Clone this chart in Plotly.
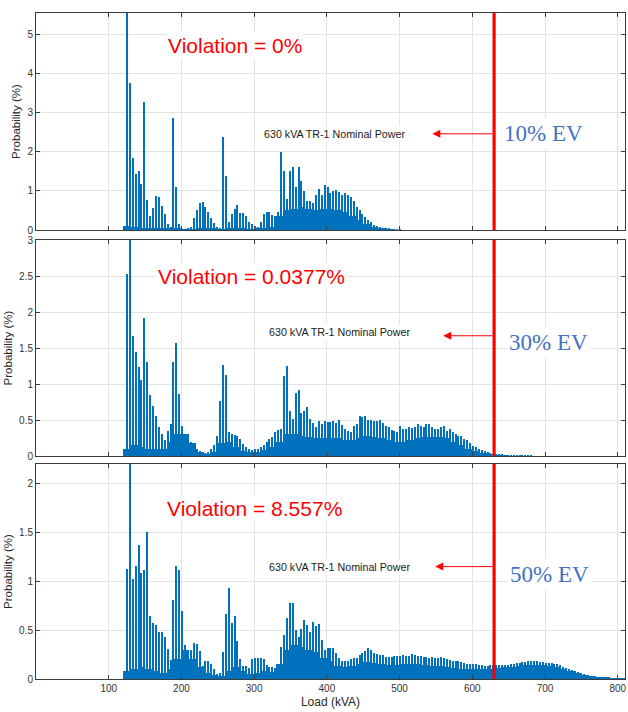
import numpy as np
import plotly.graph_objects as go
from plotly.subplots import make_subplots

# ---- histogram data (probability in %, per load bin in kVA) ----
# narrow spike bins: centres at SPIKE_START + SPIKE_STEP * i
SPIKE_START = 125
SPIKE_STEP = 4
# dense base bins: centres at BASE_START + BASE_STEP * i
BASE_START = 125
BASE_STEP = 10

ev10_spikes = [
    5.70, 3.76, 1.84, 1.44, 1.51, 1.18, 3.28, 0.77, 0.35, 0.56,
    0.88, 0.85, 0.61, 0.40, 0.15, 0.08, 2.86, 1.11, 0.15, 0.02,
    0.00, 0.03, 0.08, 0.30, 0.50, 0.70, 0.72, 0.60, 0.47, 0.30,
    0.18, 0.08, 0.05, 2.37, 1.39, 0.20, 0.40, 0.55, 0.63, 0.43,
    0.43, 0.35, 0.20, 0.15, 0.10, 0.08, 0.20, 0.40, 0.47, 0.47,
    0.38, 0.37, 0.45, 2.00, 1.50, 0.80, 1.50, 1.60, 1.10, 1.60,
    1.25, 1.00, 0.75, 0.75, 0.70, 0.90, 1.05, 0.90, 1.15, 1.10,
    0.95, 1.00, 1.03, 0.98, 0.90, 0.95, 0.90, 0.85, 0.73, 0.60,
    0.50, 0.40, 0.32, 0.25, 0.20, 0.14, 0.10, 0.07, 0.05, 0.04,
    0.03, 0.02, 0.01, 0.01, 0.005,
]
ev10_base = [
    0.10, 0.08, 0.06, 0.05, 0.04, 0.03, 0.05, 0.04,
    0.01, 0.02, 0.05, 0.06, 0.03, 0.01, 0.03, 0.05, 0.04, 0.02,
    0.03, 0.05, 0.08, 0.35, 0.50, 0.55, 0.60, 0.55, 0.50, 0.55,
    0.55, 0.50, 0.45, 0.35, 0.25, 0.15, 0.08, 0.03, 0.01, 0.00,
]

ev30_spikes = [
    2.53, 3.10, 1.67, 1.44, 1.23, 1.06, 1.91, 1.30, 0.85, 0.70,
    0.55, 0.40, 0.30, 0.22, 0.35, 0.45, 1.30, 1.57, 0.86, 0.42,
    0.30, 0.28, 0.20, 0.15, 0.10, 0.07, 0.05, 0.04, 0.05, 0.10,
    0.15, 0.28, 0.76, 1.27, 1.13, 0.34, 0.30, 0.29, 0.28, 0.23,
    0.17, 0.12, 0.10, 0.08, 0.10, 0.10, 0.12, 0.15, 0.20, 0.23,
    0.27, 0.33, 0.36, 0.38, 1.11, 1.25, 0.63, 0.52, 0.88, 0.92,
    0.60, 0.63, 0.68, 0.52, 0.46, 0.40, 0.48, 0.45, 0.48, 0.47,
    0.47, 0.48, 0.46, 0.50, 0.43, 0.38, 0.35, 0.33, 0.42, 0.45,
    0.55, 0.54, 0.55, 0.50, 0.50, 0.48, 0.48, 0.50, 0.46, 0.42,
    0.40, 0.36, 0.35, 0.33, 0.42, 0.37, 0.38, 0.40, 0.39, 0.40,
    0.45, 0.42, 0.40, 0.44, 0.45, 0.40, 0.37, 0.38, 0.40, 0.42,
    0.35, 0.37, 0.33, 0.30, 0.28, 0.28, 0.24, 0.22, 0.18, 0.14,
    0.12, 0.10, 0.08, 0.07, 0.05, 0.04, 0.03, 0.02, 0.02, 0.015,
    0.010, 0.010, 0.010, 0.008, 0.006, 0.005, 0.004, 0.003, 0.002, 0.001,
]
ev30_base = [
    0.10, 0.15, 0.12, 0.10, 0.10, 0.10, 0.20, 0.30,
    0.30, 0.18, 0.06, 0.03, 0.06, 0.18, 0.20, 0.12, 0.07, 0.05,
    0.05, 0.08, 0.12, 0.20, 0.30, 0.30, 0.28, 0.26, 0.25, 0.25,
    0.25, 0.25, 0.22, 0.22, 0.25, 0.28, 0.27, 0.25, 0.22, 0.20,
    0.20, 0.22, 0.25, 0.26, 0.27, 0.27, 0.25, 0.20, 0.15, 0.10,
    0.07, 0.04, 0.02, 0.01, 0.005,
]

ev50_spikes = [
    1.13, 2.30, 1.02, 1.16, 1.37, 1.08, 1.12, 1.50, 0.64, 0.57,
    0.55, 0.48, 0.48, 0.43, 0.31, 0.19, 0.81, 1.16, 1.12, 0.70,
    0.35, 0.25, 0.30, 0.37, 0.36, 0.29, 0.13, 0.18, 0.18, 0.15,
    0.10, 0.05, 0.06, 0.28, 0.67, 0.93, 0.57, 0.64, 0.39, 0.20,
    0.13, 0.13, 0.11, 0.20, 0.21, 0.22, 0.22, 0.20, 0.14, 0.12,
    0.12, 0.11, 0.15, 0.33, 0.45, 0.62, 0.78, 0.78, 0.50, 0.43,
    0.51, 0.60, 0.55, 0.48, 0.58, 0.54, 0.56, 0.40, 0.30, 0.32,
    0.32, 0.32, 0.27, 0.22, 0.18, 0.18, 0.18, 0.20, 0.21, 0.22,
    0.25, 0.27, 0.29, 0.32, 0.30, 0.27, 0.26, 0.25, 0.25, 0.23,
    0.23, 0.23, 0.24, 0.24, 0.24, 0.25, 0.24, 0.24, 0.26, 0.25,
    0.24, 0.24, 0.23, 0.23, 0.22, 0.23, 0.22, 0.22, 0.23, 0.21,
    0.20, 0.19, 0.18, 0.18, 0.18, 0.17, 0.16, 0.15, 0.15, 0.15,
    0.15, 0.14, 0.14, 0.13, 0.13, 0.14, 0.14, 0.14, 0.14, 0.14,
    0.14, 0.14, 0.15, 0.15, 0.16, 0.16, 0.17, 0.17, 0.18, 0.18,
    0.18, 0.18, 0.17, 0.17, 0.16, 0.16, 0.16, 0.15, 0.15, 0.14,
    0.12, 0.11, 0.10, 0.09, 0.08, 0.07, 0.06, 0.05, 0.04, 0.035,
    0.030, 0.025, 0.020, 0.015, 0.012, 0.010, 0.008, 0.005, 0.003, 0.002,
]
ev50_base = [
    0.08, 0.10, 0.12, 0.10, 0.08, 0.06, 0.10, 0.20,
    0.30, 0.20, 0.12, 0.06, 0.04, 0.03, 0.08, 0.12, 0.08, 0.05,
    0.06, 0.08, 0.07, 0.15, 0.30, 0.35, 0.33, 0.30, 0.28, 0.22,
    0.18, 0.13, 0.12, 0.13, 0.15, 0.17, 0.16, 0.15, 0.14, 0.14,
    0.15, 0.15, 0.15, 0.14, 0.13, 0.13, 0.12, 0.11, 0.10, 0.10,
    0.10, 0.10, 0.10, 0.11, 0.12, 0.12, 0.13, 0.14, 0.14, 0.14,
    0.13, 0.12, 0.10, 0.08, 0.06, 0.045, 0.03, 0.02, 0.012, 0.006,
    0.002,
]

scenarios = ["10% EV", "30% EV", "50% EV"]
violations = ["Violation = 0%", "Violation = 0.0377%", "Violation = 8.557%"]
spike_sets = [ev10_spikes, ev30_spikes, ev50_spikes]
base_sets = [ev10_base, ev30_base, ev50_base]

NOMINAL_KVA = 630
nominal_label = "630 kVA TR-1 Nominal Power"

# y ranges / ticks per panel
y_ranges = [[0, 5.55], [0, 3.0], [0, 2.2]]
y_dticks = [1, 0.5, 0.5]
# text placement (data coords) per panel
violation_pos = [(273, 4.72), (296, 2.50), (300, 1.74)]
arrow_y = [2.46, 1.67, 1.15]
arrow_head_x = [545, 560, 549]
nominal_text_pos = [(410, 2.46), (417, 1.72), (417, 1.15)]
ev_pos = [(698, 2.46), (705, 1.58), (706, 1.07)]

BAR_COLOR = "#0072BD"
FRAME = "#3c3c3c"
GRID = "#e3e3e3"
TICK_FONT = dict(family="Liberation Sans, Arial, sans-serif", size=10, color="#333333")

fig = make_subplots(rows=3, cols=1, shared_xaxes=True)

H_PLOT = 666.0
domains = [
    [(679 - 230) / H_PLOT, 1.0],
    [(679 - 456) / H_PLOT, (679 - 240) / H_PLOT],
    [0.0, (679 - 464) / H_PLOT],
]

for k in range(3):
    row = k + 1
    base = np.array(base_sets[k])
    base_x = BASE_START + BASE_STEP * np.arange(len(base))
    spikes = np.array(spike_sets[k])
    spike_x = SPIKE_START + SPIKE_STEP * np.arange(len(spikes))

    fig.add_trace(go.Bar(x=base_x, y=base, width=BASE_STEP,
                         marker=dict(color=BAR_COLOR, line=dict(width=0)),
                         showlegend=False, hoverinfo="skip"), row=row, col=1)
    fig.add_trace(go.Bar(x=spike_x, y=spikes, width=1.4,
                         marker=dict(color=BAR_COLOR, line=dict(width=0)),
                         showlegend=False), row=row, col=1)

    xs = "" if k == 0 else str(row)
    xref = "x" + xs
    yref = "y" + xs

    # nominal power line
    fig.add_shape(type="line", x0=NOMINAL_KVA, x1=NOMINAL_KVA, y0=0, y1=1,
                  xref=xref, yref=yref + " domain",
                  line=dict(color="#FF0000", width=3.2), layer="above")

    # arrow pointing from the nominal line toward the label
    fig.add_annotation(x=arrow_head_x[k], y=arrow_y[k], ax=NOMINAL_KVA, ay=arrow_y[k],
                       xref=xref, yref=yref, axref=xref, ayref=yref,
                       text="", showarrow=True, arrowhead=2, arrowsize=1.6,
                       arrowwidth=1, arrowcolor="#FF0000")

    fig.add_annotation(x=nominal_text_pos[k][0], y=nominal_text_pos[k][1],
                       xref=xref, yref=yref, text=nominal_label, showarrow=False,
                       font=dict(family="Liberation Sans, Arial, sans-serif",
                                 size=10.7, color="#1a1a1a"),
                       bgcolor="white")

    fig.add_annotation(x=violation_pos[k][0], y=violation_pos[k][1],
                       xref=xref, yref=yref, text=violations[k], showarrow=False,
                       font=dict(family="Liberation Sans, Arial, sans-serif",
                                 size=21, color="#FF0000"),
                       bgcolor="white")

    fig.add_annotation(x=ev_pos[k][0], y=ev_pos[k][1],
                       xref=xref, yref=yref, text=scenarios[k], showarrow=False,
                       font=dict(family="Liberation Serif, Times New Roman, serif",
                                 size=23, color="#4472C4"),
                       bgcolor="white", borderpad=2)

    fig.update_yaxes(row=row, col=1, domain=domains[k], range=y_ranges[k],
                     dtick=y_dticks[k], tick0=0,
                     showline=True, linecolor=FRAME, linewidth=1, mirror="ticks",
                     ticks="inside", ticklen=4, tickcolor=FRAME,
                     showgrid=True, gridcolor=GRID, gridwidth=1, zeroline=False,
                     tickfont=TICK_FONT,
                     title=dict(text="Probability (%)", standoff=4,
                                font=dict(family="Liberation Sans, Arial, sans-serif",
                                          size=11.5, color="#262626")))
    fig.update_xaxes(row=row, col=1, range=[0, 810],
                     tickvals=[100, 200, 300, 400, 500, 600, 700, 800],
                     showline=True, linecolor=FRAME, linewidth=1, mirror="ticks",
                     ticks="inside", ticklen=4, tickcolor=FRAME,
                     showgrid=True, gridcolor=GRID, gridwidth=1, zeroline=False,
                     showticklabels=(k == 2), tickfont=TICK_FONT)

fig.update_xaxes(row=3, col=1,
                 title=dict(text="Load (kVA)", standoff=4,
                            font=dict(family="Liberation Sans, Arial, sans-serif",
                                      size=12, color="#262626")))

fig.update_layout(
    width=628, height=712,
    margin=dict(l=36, r=3, t=13, b=33, autoexpand=False),
    paper_bgcolor="white", plot_bgcolor="white",
    barmode="overlay", bargap=0,
    showlegend=False,
)

fig.write_html("out.html")
